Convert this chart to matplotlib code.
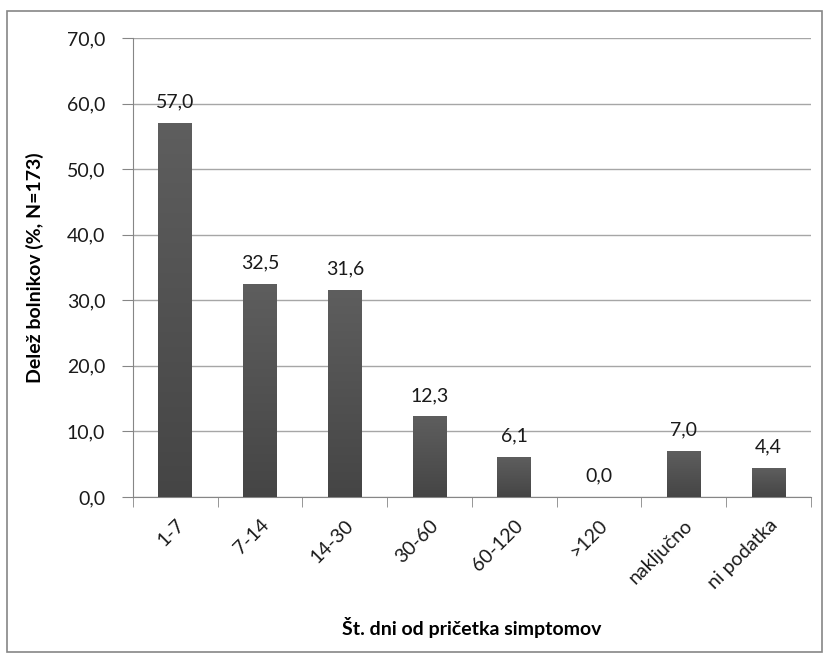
import matplotlib

matplotlib.use("Agg")
import matplotlib.pyplot as plt
import numpy as np
from matplotlib.patches import Rectangle

categories = ["1-7", "7-14", "14-30", "30-60", "60-120", ">120", "naključno", "ni podatka"]
shares = [57.0, 32.5, 31.6, 12.3, 6.1, 0.0, 7.0, 4.4]
y_ticks = [0, 10, 20, 30, 40, 50, 60, 70]

plt.rcParams["font.family"] = ["Lato", "DejaVu Sans"]

W, H = 829, 660
fig = plt.figure(figsize=(W / 100, H / 100), dpi=100)

# outer frame like an Excel chart area
fig.add_artist(Rectangle((7 / W, 1 - 652 / H), 815 / W, 641 / H, transform=fig.transFigure,
                         fill=False, edgecolor="#868686", linewidth=1.2))

left, right, top, bottom = 133, 811, 38, 497
ax = fig.add_axes([left / W, 1 - bottom / H, (right - left) / W, (bottom - top) / H])

x = np.arange(len(categories))
bars = ax.bar(x, shares, width=0.4, color="#555555", zorder=3)

# vertical gradient on each bar
grad = np.linspace(0, 1, 256).reshape(-1, 1)
cmap = matplotlib.colors.LinearSegmentedColormap.from_list("g", ["#454545", "#5e5e5e"])
for b in bars:
    if b.get_height() <= 0:
        continue
    im = ax.imshow(grad, cmap=cmap, aspect="auto", origin="lower", zorder=3,
                   extent=[b.get_x(), b.get_x() + b.get_width(), 0, b.get_height()])
    im.set_clip_path(b)

fs = 14
for xi, v in zip(x, shares):
    ax.text(xi, v + 1.9, f"{v:.1f}".replace(".", ","), ha="center", va="bottom",
            fontsize=fs, color="#1a1a1a", zorder=4)

ax.set_xlim(-0.5, len(categories) - 0.5)
ax.set_ylim(0, 70)
ax.set_yticks(y_ticks)
ax.set_yticklabels([f"{t:.1f}".replace(".", ",") for t in y_ticks], fontsize=fs, color="#1a1a1a")
ax.set_xticks(x)
ax.set_xticklabels(categories, rotation=45, ha="right", rotation_mode="anchor", fontsize=fs,
                   color="#1a1a1a")
ax.tick_params(axis="x", length=0, pad=14)
ax.set_xticks(np.arange(len(categories) + 1) - 0.5, minor=True)
ax.tick_params(axis="x", which="minor", length=7, color="#868686")
ax.tick_params(axis="y", length=8, color="#868686", pad=12)

ax.grid(axis="y", color="#a6a6a6", linewidth=1, zorder=0)
for side in ("top", "right"):
    ax.spines[side].set_visible(False)
for side in ("left", "bottom"):
    ax.spines[side].set_color("#868686")
ax.set_axisbelow(True)

ax.set_ylabel("Delež bolnikov (%, N=173)", fontsize=14, fontweight="bold", labelpad=16)
fig.text((left + right) / 2 / W, 1 - 627 / H, "Št. dni od pričetka simptomov", ha="center",
         va="center", fontsize=14, fontweight="bold")

fig.savefig("out.png", dpi=100)
